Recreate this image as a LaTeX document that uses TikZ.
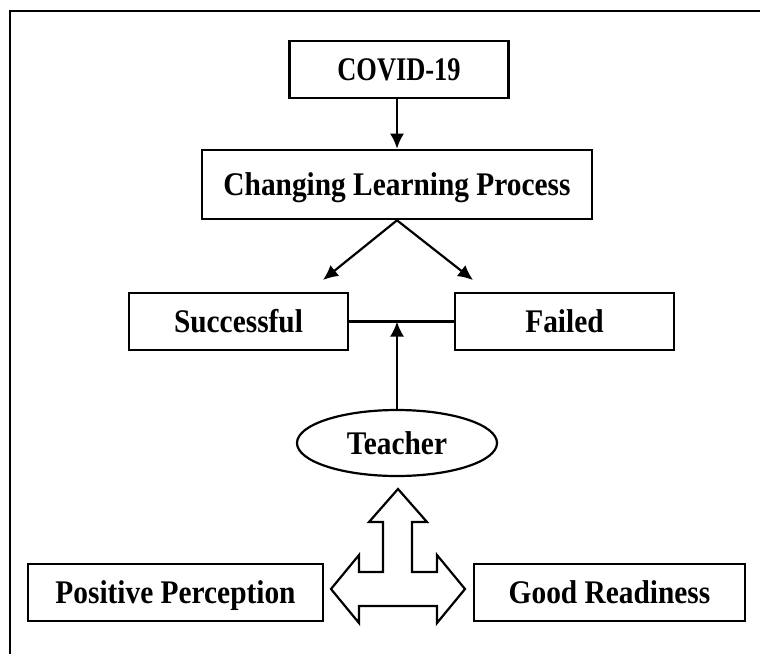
\documentclass[tikz,border=0pt]{standalone}
\usepackage{fontspec}
\setmainfont{Liberation Serif}[FakeStretch=0.89]
\usetikzlibrary{arrows.meta,shapes.geometric,positioning,calc}

\begin{document}
\begin{tikzpicture}[
						x=1pt,
						y=-1pt,
						->,
						>={Latex[length=15pt,width=14pt]},
						line width=2.2pt,
						every node/.style={font=\fontsize{33}{36}\selectfont\bfseries, text height=22pt, text depth=0pt},
						box/.style={draw, rectangle, line width=2.6pt, minimum height=57pt, inner sep=0pt},
						oval/.style={draw, ellipse, line width=2.2pt, minimum width=200pt, minimum height=66pt, inner sep=0pt}
					]
					\useasboundingbox (0,0) rectangle (760,653);
					% outer frame
					\draw[-, line width=2pt] (10,780) -- (10,11) -- (800,11);

					\node[box, minimum width=219pt] (covid) at (399,69.5) {\addfontfeatures{FakeStretch=0.8}COVID-19};
					\node[box, minimum width=390pt, minimum height=69pt] (change) at (397,184.5) {Changing Learning Process};
					\node[box, minimum width=219pt] (success) at (238.5,321.5) {Successful};
					\node[box, minimum width=219pt] (failed) at (564.5,321.5) {Failed};
					\node[oval] (teacher) at (397,443) {Teacher};
					\node[box, minimum width=295pt] (positive) at (175.5,592.5) {Positive Perception};
					\node[box, minimum width=271pt] (ready) at (609.5,592.5) {Good Readiness};

					\coordinate (toSuccess) at (323,280);
					\coordinate (toFailed) at (473,280);
					\coordinate (hub) at (398,589);

					\draw (covid.south -| change.north) -- (change.north);
					\draw (change.south) -- (toSuccess);
					\draw (change.south) -- (toFailed);
					\draw[-] (success.east) -- (failed.west);
					\draw (teacher.north) -- (teacher.north |- success.east);

					% three way arrow
					\draw[-, line width=2.2pt, line join=miter]
						($(hub)+(0,-100)$) -- ++(29,33) -- ++(-15,0) -- ++(0,50)
						-- ++(25,0) -- ++(0,-17) -- ++(28,34) -- ++(-28,34) -- ++(0,-17)
						-- ++(-78,0) -- ++(0,17) -- ++(-28,-34) -- ++(28,-34) -- ++(0,17)
						-- ++(24,0) -- ++(0,-50) -- ++(-14,0) -- cycle;
				\end{tikzpicture}
\end{document}
